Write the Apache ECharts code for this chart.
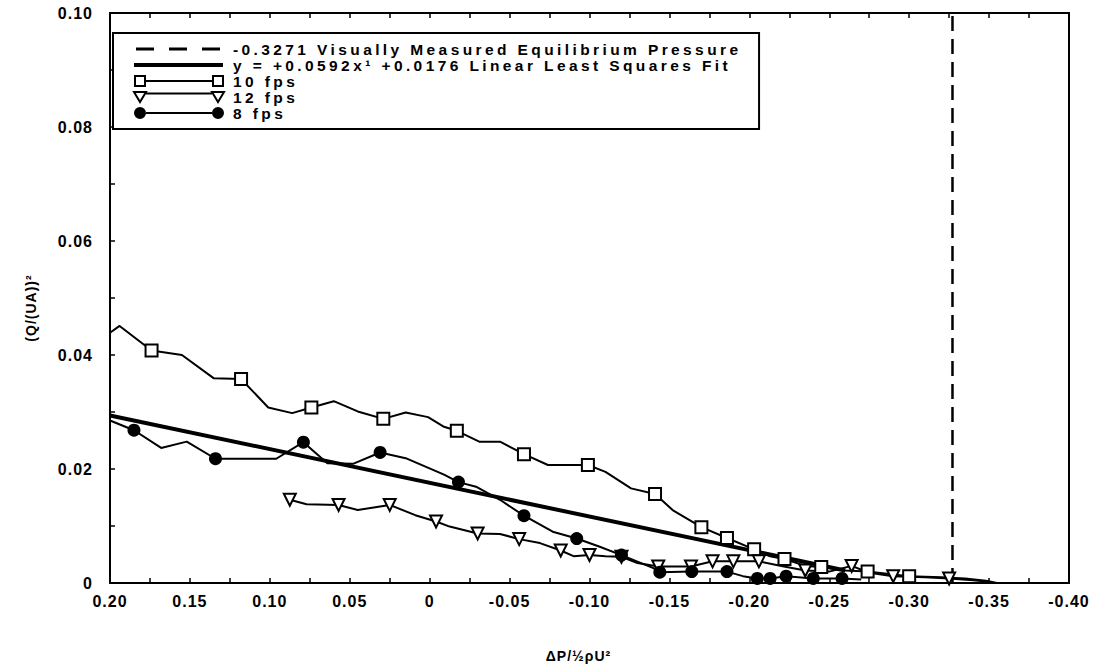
<!DOCTYPE html>
<html>
<head>
<meta charset="utf-8">
<script src="https://cdn.jsdelivr.net/npm/echarts@6/dist/echarts.min.js"></script>
<style>
html, body { margin: 0; background: #fff; }
#chart { width: 1094px; height: 671px; }
/* the old plotting package spaces its letters out */
#chart text { letter-spacing: 1px; }
#chart text[style*="15.5px"] { letter-spacing: 3.4px; }
</style>
</head>
<body>
<div id="chart"></div>
<script>
// 10 fps run (squares every few points)
var fps10X = [0.200, 0.194, 0.174, 0.155, 0.135, 0.118, 0.101, 0.086, 0.074, 0.060, 0.045, 0.029, 0.015, 0.001,
    -0.009, -0.017, -0.031, -0.044, -0.059, -0.074, -0.099, -0.110, -0.126, -0.141, -0.152, -0.170, -0.186,
    -0.203, -0.213, -0.222, -0.235, -0.245, -0.260, -0.274, -0.290, -0.300, -0.320, -0.335, -0.348, -0.355];
var fps10Y = [0.0439, 0.0451, 0.0408, 0.0400, 0.0359, 0.0358, 0.0308, 0.0298, 0.0308, 0.0319, 0.0301, 0.0288, 0.0299, 0.0291,
    0.0274, 0.0267, 0.0248, 0.0248, 0.0226, 0.0207, 0.0207, 0.0195, 0.0166, 0.0156, 0.0128, 0.0098, 0.0079,
    0.0059, 0.0047, 0.0042, 0.0030, 0.0028, 0.0022, 0.0020, 0.0015, 0.0012, 0.0010, 0.0008, 0.0004, 0.0000];
var fps10Marks = [2, 5, 8, 11, 15, 18, 20, 23, 25, 26, 27, 29, 31, 33, 35];

// 12 fps run (down triangles)
var fps12X = [0.0875, 0.077, 0.057, 0.045, 0.025, 0.009, -0.004, -0.0125, -0.030, -0.044, -0.056, -0.069, -0.082,
    -0.090, -0.100, -0.110, -0.120, -0.130, -0.143, -0.1635, -0.177, -0.190, -0.206, -0.220, -0.235, -0.250,
    -0.264, -0.275, -0.290, -0.310, -0.325, -0.340, -0.350];
var fps12Y = [0.0146, 0.0138, 0.0137, 0.0128, 0.0137, 0.0119, 0.0108, 0.0099, 0.0087, 0.0086, 0.0077, 0.0070, 0.0057,
    0.0047, 0.0049, 0.0047, 0.0046, 0.0035, 0.0029, 0.0029, 0.0038, 0.0038, 0.0038, 0.0030, 0.0022, 0.0020,
    0.0030, 0.0018, 0.0012, 0.0010, 0.0008, 0.0005, 0.0002];
var fps12Marks = [0, 2, 4, 6, 8, 10, 12, 14, 16, 18, 19, 20, 21, 22, 24, 26, 28, 30];

// 8 fps run (filled circles)
var fps8X = [0.200, 0.185, 0.168, 0.152, 0.134, 0.096, 0.079, 0.064, 0.048, 0.031, 0.015, -0.009, -0.018, -0.029,
    -0.044, -0.059, -0.077, -0.092, -0.106, -0.120, -0.140, -0.144, -0.164, -0.186, -0.196, -0.205, -0.213,
    -0.223, -0.240, -0.258, -0.270];
var fps8Y = [0.0285, 0.0268, 0.0237, 0.0248, 0.0218, 0.0218, 0.0247, 0.0210, 0.0209, 0.0229, 0.0219, 0.0190, 0.0177, 0.0169,
    0.0146, 0.0118, 0.0090, 0.0078, 0.0064, 0.0049, 0.0026, 0.0019, 0.0020, 0.0020, 0.0012, 0.0008, 0.0008,
    0.0012, 0.0008, 0.0008, 0.0006];
var fps8Marks = [1, 4, 6, 9, 12, 15, 17, 19, 21, 22, 23, 25, 26, 27, 28, 29];

// least squares fit line, end points
var fitX = [0.20, -0.26];
var fitY = [0.0294, 0.0022];

// visually measured equilibrium pressure
var equilibriumX = -0.3271;

var names = {
    eq: '-0.3271 Visually Measured Equilibrium Pressure',
    fit: 'y = +0.0592x\u00b9 +0.0176 Linear Least Squares Fit',
    f10: '10 fps',
    f12: '12 fps',
    f8: '8 fps'
};

function pairs(xs, ys) {
    return xs.map(function (x, i) { return [x, ys[i]]; });
}
function markSize(marks, size) {
    return function (val, params) {
        return marks.indexOf(params.dataIndex) >= 0 ? size : 0;
    };
}

var font = 'Liberation Sans';
var anchor = 'M0,0L0,0M94,14L94,14';
var chart = echarts.init(document.getElementById('chart'), null, { renderer: 'svg' });
chart.setOption({
    animation: false,
    backgroundColor: '#fff',
    grid: { left: 110, right: 25, top: 13, bottom: 88 },
    legend: {
        orient: 'vertical',
        left: 113,
        top: 33,
        selectedMode: false,
        itemWidth: 94,
        itemHeight: 14,
        itemGap: 0,
        symbolKeepAspect: false,
        padding: [8, 174, 8, 20],
        borderColor: '#000',
        borderWidth: 2,
        backgroundColor: '#fff',
        formatter: function (n) { return names[n]; },
        textStyle: { fontFamily: font, fontWeight: 'bold', fontSize: 15.5, lineHeight: 14, color: '#000' },
        data: [
            { name: 'eq', icon: 'path://' + anchor + 'M2,5.5h18v3h-18zM35,5.5h18v3h-18zM68,5.5h18v3h-18z',
              itemStyle: { color: '#000', borderWidth: 0 } },
            { name: 'fit', icon: 'path://' + anchor + 'M0,5h89v4h-89z',
              itemStyle: { color: '#000', borderWidth: 0 } },
            { name: 'f10', icon: 'path://' + anchor + 'M1,2h10v10h-10zM11,7L79,7M79,2h10v10h-10z',
              itemStyle: { color: '#fff', borderColor: '#000', borderWidth: 2 } },
            { name: 'f12', icon: 'path://' + anchor + 'M0,2h12l-6,10zM12,3.5L78,3.5M78,2h12l-6,10z',
              itemStyle: { color: '#fff', borderColor: '#000', borderWidth: 2 } },
            { name: 'f8', icon: 'path://' + anchor + 'M0,7a6,6 0 1,0 12,0a6,6 0 1,0 -12,0zM12,6h66v2h-66zM78,7a6,6 0 1,0 12,0a6,6 0 1,0 -12,0z',
              itemStyle: { color: '#000', borderWidth: 0 } }
        ]
    },
    xAxis: [{
        type: 'value',
        min: -0.40,
        max: 0.20,
        interval: 0.05,
        inverse: true,
        name: 'ΔP/½ρU\u00b2',
        nameLocation: 'middle',
        nameGap: 66,
        nameTextStyle: { fontFamily: font, fontWeight: 'bold', fontSize: 14, color: '#000', padding: [0, 22, 0, 0] },
        axisLine: { show: true, onZero: false, lineStyle: { color: '#000', width: 2 } },
        axisTick: { show: true, inside: true, length: 5, lineStyle: { color: '#000', width: 1.5 } },
        minorTick: { show: true, splitNumber: 2, length: 5, lineStyle: { color: '#000', width: 1.5 } },
        splitLine: { show: false },
        axisLabel: {
            fontFamily: font, fontWeight: 'bold', fontSize: 16, color: '#000', margin: 10,
            formatter: function (v) { return Math.abs(v) < 1e-9 ? '0' : v.toFixed(2); }
        }
    }, {
        type: 'value',
        position: 'top',
        min: -0.40,
        max: 0.20,
        interval: 0.05,
        inverse: true,
        axisLine: { show: true, onZero: false, lineStyle: { color: '#000', width: 2 } },
        axisTick: { show: true, inside: true, length: 5, lineStyle: { color: '#000', width: 1.5 } },
        minorTick: { show: true, splitNumber: 2, length: 5, lineStyle: { color: '#000', width: 1.5 } },
        splitLine: { show: false },
        axisLabel: { show: false }
    }],
    yAxis: [{
        type: 'value',
        min: 0,
        max: 0.10,
        interval: 0.02,
        name: '(Q/(UA))\u00b2',
        nameLocation: 'middle',
        nameGap: 72,
        nameTextStyle: { fontFamily: font, fontWeight: 'bold', fontSize: 14, color: '#000', padding: [0, 20, 0, 0] },
        axisLine: { show: true, onZero: false, lineStyle: { color: '#000', width: 2 } },
        axisTick: { show: true, inside: true, length: 5, lineStyle: { color: '#000', width: 1.5 } },
        minorTick: { show: true, splitNumber: 2, length: 5, lineStyle: { color: '#000', width: 1.5 } },
        splitLine: { show: false },
        axisLabel: {
            fontFamily: font, fontWeight: 'bold', fontSize: 16, color: '#000', margin: 17,
            formatter: function (v) { return v === 0 ? '0' : v.toFixed(2); }
        }
    }, {
        type: 'value',
        position: 'right',
        min: 0,
        max: 0.10,
        interval: 0.02,
        axisLine: { show: true, onZero: false, lineStyle: { color: '#000', width: 2 } },
        axisTick: { show: false },
        splitLine: { show: false },
        axisLabel: { show: false }
    }],
    series: [{
        name: 'eq',
        type: 'line',
        data: [[equilibriumX, 0], [equilibriumX, 0.10]],
        symbol: 'none',
        lineStyle: { color: '#000', width: 2.5, type: [15, 8] },
        itemStyle: { color: '#000' }
    }, {
        name: 'fit',
        type: 'line',
        data: pairs(fitX, fitY),
        symbol: 'none',
        lineStyle: { color: '#000', width: 4 },
        itemStyle: { color: '#000' }
    }, {
        name: 'f10',
        type: 'line',
        data: pairs(fps10X, fps10Y),
        symbol: 'rect',
        symbolSize: markSize(fps10Marks, 12),
        showAllSymbol: true,
        lineStyle: { color: '#000', width: 2 },
        itemStyle: { color: '#fff', borderColor: '#000', borderWidth: 2 }
    }, {
        name: 'f12',
        type: 'line',
        data: pairs(fps12X, fps12Y),
        symbol: 'triangle',
        symbolRotate: 180,
        symbolSize: markSize(fps12Marks, 12),
        showAllSymbol: true,
        lineStyle: { color: '#000', width: 2 },
        itemStyle: { color: '#fff', borderColor: '#000', borderWidth: 2 }
    }, {
        name: 'f8',
        type: 'line',
        data: pairs(fps8X, fps8Y),
        symbol: 'circle',
        symbolSize: markSize(fps8Marks, 13),
        showAllSymbol: true,
        lineStyle: { color: '#000', width: 2 },
        itemStyle: { color: '#000', borderWidth: 0 }
    }]
});
</script>
</body>
</html>
